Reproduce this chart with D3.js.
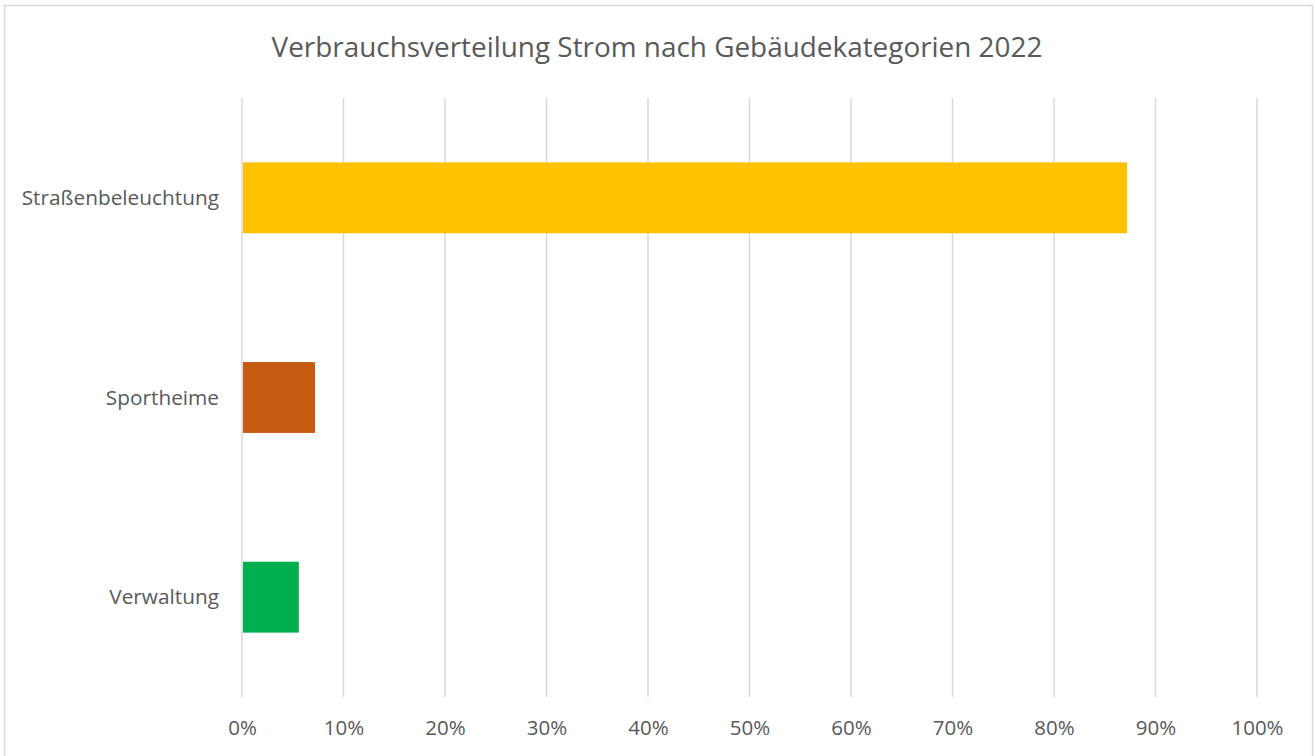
<!DOCTYPE html>
<html>
<head>
<meta charset="utf-8">
<script src="https://cdn.jsdelivr.net/npm/d3@7"></script>
<style>
  body { margin: 0; background: #fff; }
  text { font-family: "Open Sans", "Noto Sans", sans-serif; fill: #595959; }
</style>
</head>
<body>
<div class="chart"></div>
<script>
// data
var categories = ["Straßenbeleuchtung", "Sportheime", "Verwaltung"];
var shares = [0.872, 0.072, 0.056];
var barColors = ["#FFC000", "#C55A11", "#00B050"];
var xTicks = [0, 0.1, 0.2, 0.3, 0.4, 0.5, 0.6, 0.7, 0.8, 0.9, 1.0];
var chartTitle = "Verbrauchsverteilung Strom nach Gebäudekategorien 2022";

var svgWidth = 1315;
var svgHeight = 756;
var margin = {top: 98, right: 58, bottom: 59, left: 242};
var width = svgWidth - margin.left - margin.right;
var height = svgHeight - margin.top - margin.bottom;

var data = categories.map(function(c, i) {
  return {name: c, value: shares[i], color: barColors[i]};
});

var svg = d3.select(".chart")
  .append("svg")
  .attr("width", svgWidth)
  .attr("height", svgHeight);

// outer chart border
svg.append("rect")
  .attr("x", 4.5)
  .attr("y", 5.5)
  .attr("width", svgWidth - 7)
  .attr("height", svgHeight + 10)
  .attr("fill", "none")
  .attr("stroke", "#d9d9d9")
  .attr("stroke-width", 1.5);

var chart = svg.append("g")
  .attr("transform", "translate(" + margin.left + "," + margin.top + ")");

var xScale = d3.scaleLinear().domain([0, 1]).range([0, width]);
var yScale = d3.scaleBand().domain(categories).range([0, height]).paddingInner(0.645).paddingOuter(0.3225);

// gridlines
chart.append("g")
  .selectAll("line")
  .data(xTicks)
  .enter().append("line")
  .attr("x1", function(d) { return xScale(d); })
  .attr("x2", function(d) { return xScale(d); })
  .attr("y1", 0)
  .attr("y2", height)
  .attr("stroke", "#d9d9d9")
  .attr("stroke-width", 1.5);

// bars
chart.selectAll("rect.bar")
  .data(data)
  .enter().append("rect")
  .attr("class", "bar")
  .attr("x", xScale(0) + 1)
  .attr("y", function(d) { return yScale(d.name); })
  .attr("width", function(d) { return xScale(d.value) - xScale(0) - 1; })
  .attr("height", yScale.bandwidth())
  .attr("fill", function(d) { return d.color; });

// x axis
var bottomAxis = d3.axisBottom(xScale)
  .tickValues(xTicks)
  .tickSize(0)
  .tickPadding(38)
  .tickFormat(d3.format(".0%"));

var xAxis = chart.append("g")
  .attr("transform", "translate(0," + height + ")")
  .call(bottomAxis);
xAxis.select(".domain").remove();
xAxis.selectAll("text")
  .style("font-size", "20.5px")
  .attr("dy", 0)
  .attr("fill", "#595959");

// y axis
var leftAxis = d3.axisLeft(yScale).tickSize(0).tickPadding(23);
var yAxis = chart.append("g").call(leftAxis);
yAxis.select(".domain").remove();
yAxis.selectAll("text")
  .style("font-size", "20.8px")
  .attr("dy", "0.35em")
  .attr("fill", "#595959");

// title
svg.append("text")
  .attr("x", 657)
  .attr("y", 57)
  .attr("text-anchor", "middle")
  .style("font-size", "27.9px")
  .text(chartTitle);
</script>
</body>
</html>
